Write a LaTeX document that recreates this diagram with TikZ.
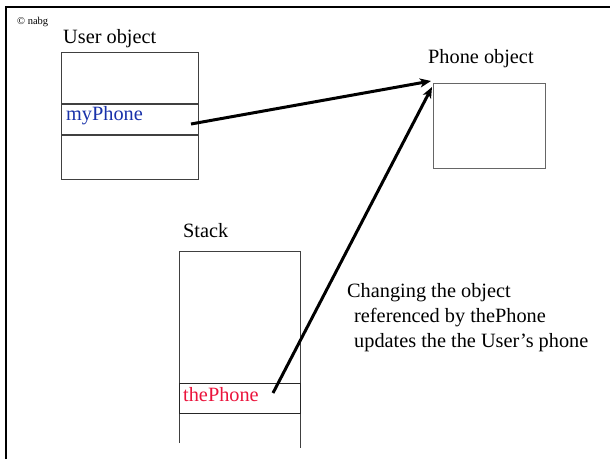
\documentclass[tikz,border=0pt]{standalone}
\usepackage{fontspec}
\setmainfont{Liberation Serif}
\usetikzlibrary{arrows.meta,calc}
\definecolor{refblue}{RGB}{25,50,170}
\definecolor{refred}{RGB}{235,20,60}
\begin{document}
\begin{tikzpicture}[x=1pt,y=-1pt,
  lbl/.style={anchor=base west,inner sep=0pt,font=\fontsize{20.3}{24}\selectfont},
  cell/.style={draw=black!75,line width=0.9pt,inner sep=0pt,minimum width=137pt},
  ptr/.style={line width=3pt,-{Stealth[length=11pt,width=9pt,inset=3pt]}}]
\useasboundingbox[fill=white] (0,0) rectangle (610,459);
% page frame (top and left edges)
\draw[line width=2.6pt] (6,459) -- (6,7) -- (610,7);
\node[anchor=base west,inner sep=0pt,font=\fontsize{10.5}{12}\selectfont] (copy) at (17,24) {\textcopyright\ nabg};

% user object
\node[lbl] (usertitle) at (63,43) {User object};
\node[cell,anchor=north west,minimum height=51pt] (utop) at (61,52) {};
\node[cell,anchor=north,minimum height=30pt] (umid) at (utop.south) {};
\node[cell,anchor=north,minimum height=44pt] (ubot) at (umid.south) {};
\node[lbl,text=refblue] (myphone) at (66,120) {myPhone};

% phone object
\node[lbl] (phonetitle) at (428,63) {Phone object};
\node[draw=black!60,line width=1.2pt,anchor=north west,minimum width=112pt,minimum height=85pt,inner sep=0pt] (phone) at (433,83) {};

% stack frame
\node[lbl] (stacktitle) at (183,237) {Stack};
\coordinate (sbl) at (179,443);
\coordinate (sbr) at (300,448);
\draw[black!75,line width=0.9pt] (sbl) -- (179,251) -- (300,251) -- (sbr);
\node[draw=black!85,line width=0.9pt,anchor=north west,minimum width=121pt,minimum height=30pt,inner sep=0pt] (slot) at (179,383) {};
\node[lbl,text=refred] (thephone) at (183,401) {thePhone};

% note
\node[lbl,anchor=base west] (note1) at (347,297) {Changing the object};
\node[lbl,anchor=base west] (note2) at (354,322) {referenced by thePhone};
\node[lbl,anchor=base west] (note3) at (354,347) {updates the the User’s phone};

% references
\coordinate (mytail) at (191,124);
\coordinate (thetail) at (273,393);
\coordinate (tip1) at ($(phone.north west)+(-2,-2)$);
\coordinate (tip2) at ($(phone.north west)+(-1,4)$);
\draw[ptr] (mytail) -- (tip1);
\draw[ptr] (thetail) -- (tip2);
\end{tikzpicture}
\end{document}
